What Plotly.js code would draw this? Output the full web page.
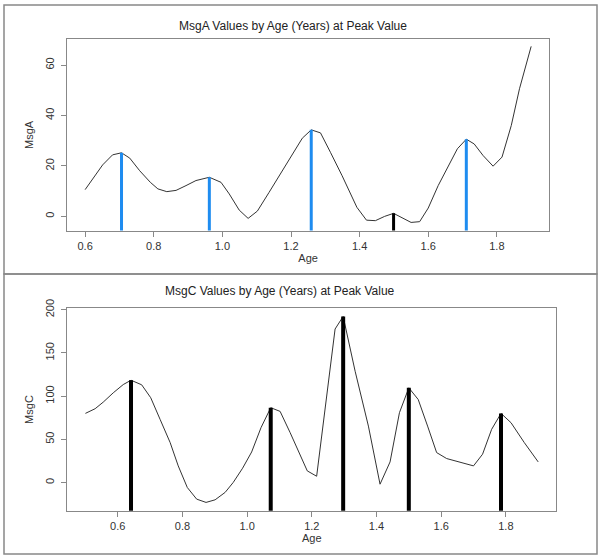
<!DOCTYPE html>
<html><head><meta charset="utf-8">
<script src="https://cdn.plot.ly/plotly-3.0.1.min.js"></script>
<style>html,body{margin:0;padding:0;background:#fff}</style>
</head><body><div id="chart" style="width:601px;height:560px"></div>
<script>
// MsgA panel
const ageA = [0.6,0.651,0.68,0.706,0.73,0.759,0.79,0.812,0.838,0.865,0.894,0.923,0.962,0.996,1.02,1.049,1.075,1.102,1.136,1.17,1.204,1.233,1.259,1.286,1.315,1.349,1.392,1.42,1.446,1.473,1.499,1.525,1.55,1.575,1.6,1.629,1.658,1.685,1.711,1.734,1.76,1.789,1.815,1.842,1.866,1.9];
const msgA = [10.6,20.4,24.4,25.2,23.1,18.1,13.5,10.9,9.8,10.3,12.2,14.2,15.5,13.5,8.9,2.5,-0.8,2.1,9.5,17.1,24.8,31.0,34.3,33.1,25.4,16.1,3.6,-1.5,-1.7,0.0,1.2,-0.5,-2.4,-2.1,3.3,12.2,20.1,26.8,30.6,28.7,24.1,19.9,23.5,36.0,50.6,67.4];
const peakAgeA = [0.706,0.962,1.259,1.711];
const peakValA = [25.2,15.5,34.3,30.6];
const lowPeakAgeA = [1.499];
const lowPeakValA = [1.2];
// MsgC panel
const ageC = [0.5,0.53,0.555,0.586,0.617,0.641,0.674,0.702,0.731,0.762,0.787,0.815,0.844,0.873,0.901,0.932,0.957,0.986,1.014,1.043,1.073,1.102,1.133,1.186,1.215,1.272,1.297,1.334,1.375,1.411,1.442,1.471,1.5,1.529,1.558,1.586,1.617,1.7,1.728,1.756,1.785,1.816,1.857,1.9];
const msgC = [80,85.4,93,103.8,113.4,118.4,113.1,98.1,73,46.2,19.2,-5.8,-19.3,-23.1,-20.1,-11.5,0,16.5,35.3,63.5,86.6,82.3,57.7,13.4,7.2,177.7,192.3,128.8,65.3,-2.0,23.8,80.8,109.6,96.1,65.3,34.6,27.7,19.2,32.7,61.5,80,69.2,46.2,23.8];
const peakAgeC = [0.641,1.073,1.297,1.5,1.785];
const peakValC = [118.4,86.6,192.3,109.6,80];
const xTicks = [0.6,0.8,1.0,1.2,1.4,1.6,1.8];
const yTicksA = [0,20,40,60];
const yTicksC = [0,50,100,150,200];

function stems(xs, ys, base) {
  const x = [], y = [];
  xs.forEach((v, i) => { x.push(v, v, null); y.push(ys[i], base, null); });
  return {x, y};
}
const sA = stems(peakAgeA, peakValA, -20);
const sA2 = stems(lowPeakAgeA, lowPeakValA, -20);
const sC = stems(peakAgeC, peakValC, -60);

const W = 601, H = 560;
const px = v => v / W, py = v => 1 - v / H;
const font = {family: '"Liberation Sans", Arial, sans-serif', size: 11, color: '#333'};

const traces = [
  {x: ageA, y: msgA, type: 'scatter', mode: 'lines', line: {color: '#333', width: 1}, xaxis: 'x', yaxis: 'y', hoverinfo: 'x+y'},
  {x: sA.x, y: sA.y, type: 'scatter', mode: 'lines', line: {color: '#1E8CF0', width: 3}, xaxis: 'x', yaxis: 'y'},
  {x: sA2.x, y: sA2.y, type: 'scatter', mode: 'lines', line: {color: '#000', width: 3}, xaxis: 'x', yaxis: 'y'},
  {x: ageC, y: msgC, type: 'scatter', mode: 'lines', line: {color: '#333', width: 1}, xaxis: 'x2', yaxis: 'y2'},
  {x: sC.x, y: sC.y, type: 'scatter', mode: 'lines', line: {color: '#000', width: 4}, xaxis: 'x2', yaxis: 'y2'}
];

const axBase = {
  showgrid: false, zeroline: false, showline: true, mirror: true, linecolor: '#888', linewidth: 1,
  ticks: 'outside', ticklen: 5, tickwidth: 1, tickcolor: '#888', tickfont: font, automargin: false
};

const layout = {
  width: W, height: H, margin: {l: 0, r: 0, t: 0, b: 0},
  paper_bgcolor: '#fff', plot_bgcolor: '#fff', showlegend: false, font: font,
  xaxis: Object.assign({}, axBase, {domain: [px(67.3), px(549)], range: [0.548, 1.952], anchor: 'y',
    tickvals: xTicks, tickformat: '.1f', title: {text: 'Age', font: font, standoff: 1}}),
  yaxis: Object.assign({}, axBase, {domain: [py(230.5), py(39.3)], range: [-5.6, 70.2], anchor: 'x',
    tickvals: yTicksA, tickangle: -90, ticklabelstandoff: 3, title: {text: 'MsgA', font: font, standoff: 8}}),
  xaxis2: Object.assign({}, axBase, {domain: [px(67.3), px(556.3)], range: [0.444, 1.956], anchor: 'y2',
    tickvals: xTicks, tickformat: '.1f', title: {text: 'Age', font: font, standoff: 2}}),
  yaxis2: Object.assign({}, axBase, {domain: [py(510.7), py(308.3)], range: [-32.7, 201.7], anchor: 'x2',
    tickvals: yTicksC, tickangle: -90, ticklabelstandoff: 3, title: {text: 'MsgC', font: font, standoff: 8}}),
  annotations: [
    {text: 'MsgA Values by Age (Years) at Peak Value', xref: 'paper', yref: 'paper', x: px(293), y: py(25.7),
      xanchor: 'center', yanchor: 'middle', showarrow: false, font: {family: font.family, size: 12, color: '#222'}},
    {text: 'MsgC Values by Age (Years) at Peak Value', xref: 'paper', yref: 'paper', x: px(280), y: py(290.7),
      xanchor: 'center', yanchor: 'middle', showarrow: false, font: {family: font.family, size: 12, color: '#222'}}
  ],
  shapes: [
    {type: 'rect', xref: 'paper', yref: 'paper', x0: px(4), x1: px(597), y0: py(274), y1: py(5), line: {color: '#888', width: 1.5}},
    {type: 'rect', xref: 'paper', yref: 'paper', x0: px(4), x1: px(597), y0: py(554), y1: py(274), line: {color: '#888', width: 1.5}}
  ]
};

Plotly.newPlot('chart', traces, layout, {displayModeBar: false, staticPlot: true});
</script>
</body></html>
